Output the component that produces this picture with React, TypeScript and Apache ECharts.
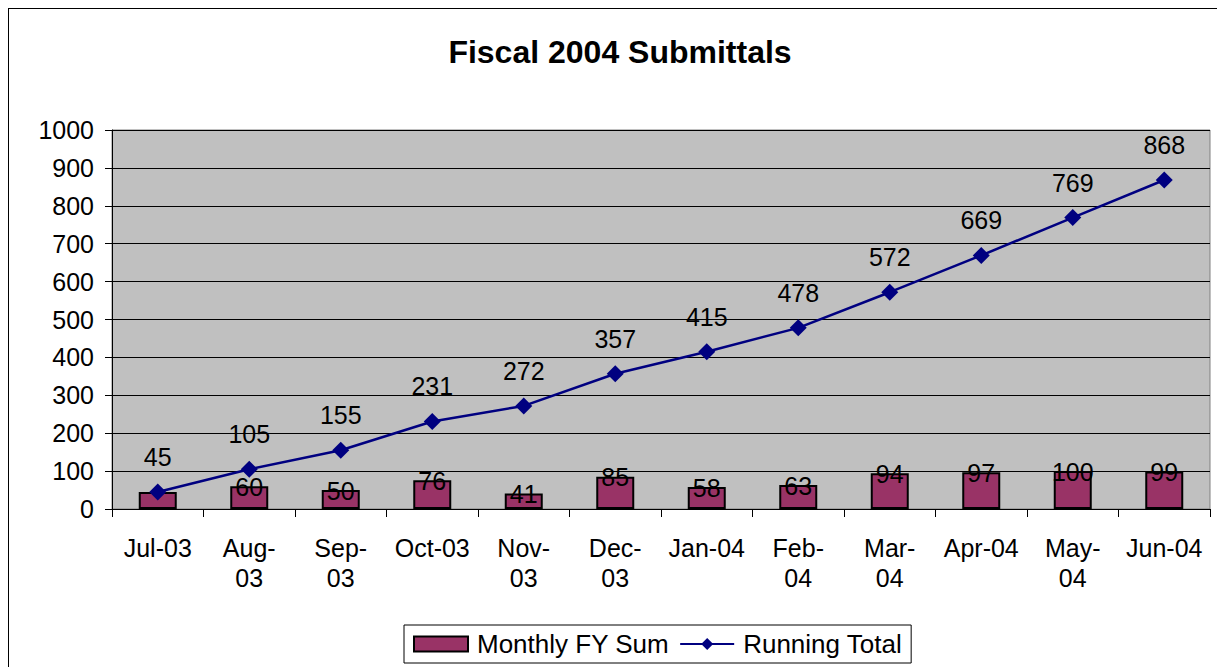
import React, { useEffect, useRef } from "react";
import * as echarts from "echarts";

const categories = [
  "Jul-03", "Aug-\n03", "Sep-\n03", "Oct-03", "Nov-\n03", "Dec-\n03",
  "Jan-04", "Feb-\n04", "Mar-\n04", "Apr-04", "May-\n04", "Jun-04",
];
const monthlySum = [45, 60, 50, 76, 41, 85, 58, 63, 94, 97, 100, 99];
const runningTotal = [45, 105, 155, 231, 272, 357, 415, 478, 572, 669, 769, 868];
const titleText = "Fiscal 2004 Submittals";
const seriesNames = ["Monthly FY Sum", "Running Total"];

const FONT = "'Liberation Sans', Arial, sans-serif";

export default function App() {
  const ref = useRef<HTMLDivElement>(null);
  useEffect(() => {
    if (!ref.current) return;
    const chart = echarts.init(ref.current, undefined, { renderer: "svg" });
    chart.setOption({
      animation: false,
      textStyle: { fontFamily: FONT, color: "#000" },
      title: {
        text: titleText,
        left: 606,
        textAlign: "center",
        top: 22,
        textStyle: { fontFamily: FONT, fontSize: 32, fontWeight: "bold", color: "#000" },
      },
      legend: {
        left: 395,
        top: 616,
        orient: "horizontal",
        borderColor: "#000",
        borderWidth: 1,
        padding: [6, 9, 6, 9],
        itemGap: 10,
        itemWidth: 54,
        itemHeight: 15,
        textStyle: { fontFamily: FONT, fontSize: 26, color: "#000", padding: [0, 0, 0, 4] },
        data: [
          { name: seriesNames[0], icon: "rect" },
          { name: seriesNames[1] },
        ],
      },
      grid: {
        left: 103,
        top: 121,
        width: 1098,
        height: 379,
        show: true,
        backgroundColor: "#C0C0C0",
        borderColor: "#808080",
        borderWidth: 1,
      },
      xAxis: {
        type: "category",
        data: categories,
        boundaryGap: true,
        axisLine: { show: true, lineStyle: { color: "#000", width: 1 } },
        axisTick: { show: true, alignWithLabel: false, length: 8, lineStyle: { color: "#000" } },
        axisLabel: {
          interval: 0,
          margin: 24,
          fontSize: 25,
          lineHeight: 30,
          color: "#000",
          fontFamily: FONT,
        },
        splitLine: { show: false },
      },
      yAxis: {
        type: "value",
        min: 0,
        max: 1000,
        interval: 100,
        axisLine: { show: true, lineStyle: { color: "#000", width: 1 } },
        axisTick: { show: true, length: 7, lineStyle: { color: "#000" } },
        axisLabel: {
          margin: 18,
          fontSize: 25,
          color: "#000",
          fontFamily: FONT,
          formatter: (v: number) => String(v),
        },
        splitLine: { show: true, lineStyle: { color: "#000", width: 1 } },
      },
      series: [
        {
          name: seriesNames[0],
          type: "bar",
          data: monthlySum.map((v, i) => (i === 0 ? { value: v, label: { show: false } } : v)),
          barWidth: 38,
          itemStyle: { color: "#993366", borderColor: "#000", borderWidth: 2 },
          label: {
            show: true,
            position: "top",
            distance: -13,
            fontSize: 25,
            color: "#000",
            fontFamily: FONT,
          },
          z: 2,
        },
        {
          name: seriesNames[1],
          type: "line",
          data: runningTotal,
          symbol: "diamond",
          symbolSize: 17,
          lineStyle: { color: "#000080", width: 2.5 },
          itemStyle: { color: "#000080" },
          label: {
            show: true,
            position: "top",
            distance: 14,
            fontSize: 25,
            color: "#000",
            fontFamily: FONT,
          },
          z: 3,
        },
      ],
    });
    return () => chart.dispose();
  }, []);
  return (
    <div style={{ border: "1px solid #000", width: 1215, height: 680 }}>
      <div ref={ref} style={{ width: 1215, height: 680 }} />
    </div>
  );
}
